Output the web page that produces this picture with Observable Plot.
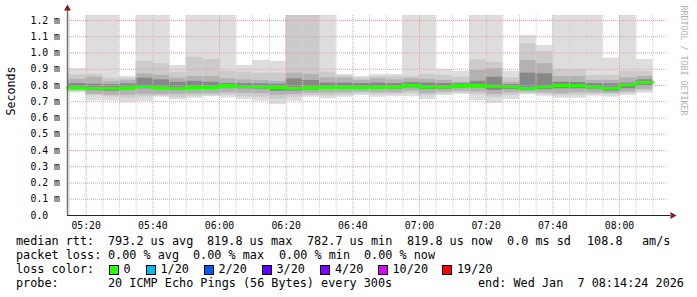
<!DOCTYPE html>
<html><head><meta charset="utf-8">
<script src="https://cdn.jsdelivr.net/npm/d3@7"></script>
<script src="https://cdn.jsdelivr.net/npm/@observablehq/plot@0.6"></script>
<style>
body{margin:0;background:#fff;}
#wrap{position:relative;width:697px;height:297px;overflow:hidden;background:#fff;font-family:"DejaVu Sans Mono",monospace;color:#000;}
#chart{position:absolute;left:0;top:0;}
.seg{position:absolute;font-size:11.8px;line-height:14px;white-space:pre;}
.box{position:absolute;width:8px;height:8px;border:1px solid #000;}
</style></head><body><div id="wrap"><div id="chart"></div></div>
<script>
// ---- data ----
const timeLabels = ["05:15","05:20","05:25","05:30","05:35","05:40","05:45","05:50","05:55",
  "06:00","06:05","06:10","06:15","06:20","06:25","06:30","06:35","06:40","06:45","06:50","06:55",
  "07:00","07:05","07:10","07:15","07:20","07:25","07:30","07:35","07:40","07:45","07:50","07:55",
  "08:00","08:05"];
const maxV = [0.903,1.30,1.30,0.856,1.30, 1.30,0.923,1.30,1.30,1.30, 0.923,0.954,0.948,1.30,1.30,
  1.30,0.868,0.855,0.868,0.868, 1.30,1.30,0.898,0.886,1.30, 1.30,0.888,1.108,1.046,1.30, 1.30,1.30,0.968,1.30,0.960];
const hi2 = [0.865,0.868,0.845,0.843,0.948, 0.934,0.882,0.974,0.960,0.888, 0.882,0.876,0.876,1.30,1.30,
  0.882,0.860,0.845,0.855,0.855, 0.855,0.868,0.862,0.851,0.958, 0.943,0.847,1.057,1.009,0.898, 0.898,0.862,0.862,0.888,0.886];
const hi3 = [0.838,0.851,0.825,0.830,0.872, 0.862,0.845,0.855,0.855,0.841, 0.835,0.831,0.825,0.876,0.868,
  0.847,0.847,0.831,0.841,0.835, 0.841,0.837,0.831,0.820,0.892, 0.903,0.820,0.954,0.934,0.855, 0.855,0.831,0.831,0.847,0.855];
const hi4 = [0.812,0.808,0.805,0.810,0.845, 0.835,0.820,0.826,0.820,0.812, 0.812,0.810,0.808,0.841,0.831,
  0.815,0.815,0.812,0.815,0.812, 0.818,0.815,0.812,0.812,0.826, 0.851,0.805,0.876,0.872,0.820, 0.818,0.812,0.810,0.815,0.835];
const medianV = [0.786,0.783,0.783,0.786,0.794, 0.786,0.783,0.788,0.787,0.800, 0.794,0.792,0.788,0.783,0.786,
  0.790,0.790,0.790,0.790,0.791, 0.801,0.791,0.792,0.800,0.800, 0.796,0.792,0.783,0.792,0.800, 0.798,0.792,0.783,0.804,0.8198];
const lo4 = [0.775,0.768,0.765,0.772,0.780, 0.775,0.770,0.775,0.775,0.785, 0.780,0.778,0.765,0.765,0.772,
  0.778,0.778,0.778,0.778,0.778, 0.785,0.775,0.778,0.785,0.785, 0.770,0.775,0.770,0.775,0.780, 0.780,0.778,0.765,0.780,0.800];
const lo3 = [0.768,0.745,0.740,0.740,0.745, 0.745,0.745,0.748,0.750,0.755, 0.752,0.750,0.740,0.745,0.752,
  0.752,0.755,0.760,0.755,0.755, 0.765,0.750,0.760,0.765,0.760, 0.745,0.755,0.760,0.755,0.750, 0.755,0.755,0.752,0.760,0.775];
const lo2 = [0.762,0.738,0.730,0.722,0.730, 0.735,0.725,0.735,0.738,0.740, 0.730,0.728,0.715,0.728,0.738,
  0.735,0.740,0.750,0.745,0.745, 0.750,0.738,0.750,0.755,0.745, 0.728,0.740,0.750,0.745,0.738, 0.740,0.745,0.745,0.752,0.765];
const minV = [0.755,0.705,0.705,0.695,0.702, 0.728,0.712,0.722,0.732,0.724, 0.712,0.704,0.683,0.704,0.728,
  0.718,0.728,0.738,0.728,0.732, 0.732,0.714,0.738,0.745,0.708, 0.691,0.714,0.743,0.734,0.722, 0.722,0.734,0.728,0.738,0.753];
const yTicks = [0,0.1,0.2,0.3,0.4,0.5,0.6,0.7,0.8,0.9,1.0,1.1,1.2];
const xMajorLabels = ["05:20","05:40","06:00","06:20","06:40","07:00","07:20","07:40","08:00"];
const rangeStart = "05:14:24", rangeEnd = "08:14:24";
const yTitle = "Seconds";
const sideText = "RRDTOOL / TOBI OETIKER";
const row1 = ["median rtt:","793.2 us avg","819.8 us max","782.7 us min","819.8 us now","0.0 ms sd","108.8","am/s"];
const row2 = ["packet loss:","0.00 % avg","0.00 % max","0.00 % min","0.00 % now"];
const row3Label = "loss color:";
const lossLabels = ["0","1/20","2/20","3/20","4/20","10/20","19/20"];
const lossColors = ["#26ff00","#00b8ff","#0059ff","#5e00ff","#7e00ff","#dd00ff","#ff0000"];
const row4 = ["probe:","20 ICMP Echo Pings (56 Bytes) every 300s","end: Wed Jan  7 08:14:24 2026"];

// ---- build ----
const toDate = s => { const [h,m,sec] = s.split(":").map(Number); return new Date(2026,0,7,h,m,sec||0); };
const STEP = 5*60*1000;
const x0 = toDate(rangeStart), x1 = toDate(rangeEnd);
const bars = timeLabels.map((t,i) => {
  const s = toDate(t);
  return {x1: i===0 ? x0 : s, x2: new Date(+s+STEP), max:maxV[i], hi2:hi2[i], hi3:hi3[i], hi4:hi4[i],
    med:medianV[i], lo4:lo4[i], lo3:lo3[i], lo2:lo2[i], min:minV[i]};
});
const medPts = bars.map(b => ({t:b.x1, v:b.med})).concat([{t:bars[bars.length-1].x2, v:bars[bars.length-1].med}]);
const minorTicks = d3.timeMinute.every(5).range(new Date(+x0+1000), bars[bars.length-1].x2 ).concat([bars[bars.length-1].x2]);
const majorTicks = xMajorLabels.map(toDate);
const yTop = 200/162.5;
const grid = "#e6a0a0", gridMinor = "#cfcfcf";
const yFmt = d => d===0 ? "0.0" : d.toFixed(1)+" m";

const plot = Plot.plot({
  width: 697, height: 232,
  marginLeft: 67, marginRight: 30, marginTop: 15, marginBottom: 17,
  x: {type:"time", domain:[x0,x1], axis:null},
  y: {domain:[0,yTop], axis:null},
  style: {fontFamily:'"DejaVu Sans Mono", monospace', fontSize:"9.8px", color:"#000", background:"#fff", overflow:"visible"},
  marks: [
    Plot.rect(bars, {x1:"x1", x2:"x2", y1:"min", y2:"max", fill:"#dddddd", clip:true}),
    Plot.rect(bars, {x1:"x1", x2:"x2", y1:"lo2", y2:"hi2", fill:"#cbcbcb", clip:true}),
    Plot.rect(bars, {x1:"x1", x2:"x2", y1:"lo3", y2:"hi3", fill:"#b2b2b2", clip:true}),
    Plot.rect(bars, {x1:"x1", x2:"x2", y1:"lo4", y2:"hi4", fill:"#888888", clip:true}),
    Plot.ruleX(minorTicks.filter(d => !majorTicks.some(m => +m===+d)), {stroke:gridMinor, strokeDasharray:"1,1"}),
    Plot.ruleX(majorTicks, {stroke:grid, strokeDasharray:"1,1"}),
    Plot.ruleY(yTicks.filter(d=>d>0), {stroke:grid, strokeDasharray:"1,1"}),
    Plot.line(medPts, {x:"t", y:"v", curve:"step-after", stroke:"#26ff00", strokeWidth:3}),
    // axes lines
    Plot.ruleX([x0], {stroke:"#6e6e6e", strokeWidth:1.5, insetTop:-6}),
    Plot.ruleY([0], {stroke:"#222", insetRight:-3}),
    Plot.dot([x0], {x:d=>d, y:yTop, symbol:"triangle", r:2.6, fill:"#7f1f1f", stroke:null, dy:-7}),
    Plot.dot([x1], {x:d=>d, y:0, symbol:"triangle", r:2.6, fill:"#7f1f1f", stroke:null, rotate:90, dx:5}),
    // labels
    Plot.text(majorTicks, {x:d=>d, text:d=>d3.timeFormat("%H:%M")(d), frameAnchor:"bottom", dy:10, lineAnchor:"middle", fill:"#000"}),
    Plot.text(yTicks, {y:d=>d, text:yFmt, frameAnchor:"left", textAnchor:"start", dx:-37, fill:"#000"}),
    Plot.text([yTitle], {frameAnchor:"left", dx:-56, rotate:-90, fontSize:11.6, fill:"#000"}),
    Plot.text([sideText], {frameAnchor:"top-right", dx:19, dy:-10, rotate:90, textAnchor:"start", fontSize:8.3, fill:"#b0b0b0"})
  ]
});
const wrap = document.getElementById("wrap");
document.getElementById("chart").appendChild(plot);

// ---- legend ----
const rowTop = [234, 248, 262, 276];
function seg(text, left, top){ const d=document.createElement("div"); d.className="seg"; d.textContent=text; d.style.left=left+"px"; d.style.top=top+"px"; wrap.appendChild(d); }
const row1X = [16,108,207,307,407,507,587,642];
row1.forEach((t,i)=>seg(t,row1X[i],rowTop[0]));
const row2X = [16,108,193,279,364];
row2.forEach((t,i)=>seg(t,row2X[i],rowTop[1]));
seg(row3Label,16,rowTop[2]);
const boxX = [108.5,145.5,203.5,261.5,320,377.5,442];
lossLabels.forEach((t,i)=>{
  const b=document.createElement("div"); b.className="box"; b.style.background=lossColors[i];
  b.style.left=boxX[i]+"px"; b.style.top=(rowTop[2]+2.5)+"px"; wrap.appendChild(b);
  seg(t, boxX[i]+15, rowTop[2]);
});
const row4X = [16,108,478];
row4.forEach((t,i)=>seg(t,row4X[i],rowTop[3]));
</script></body></html>
